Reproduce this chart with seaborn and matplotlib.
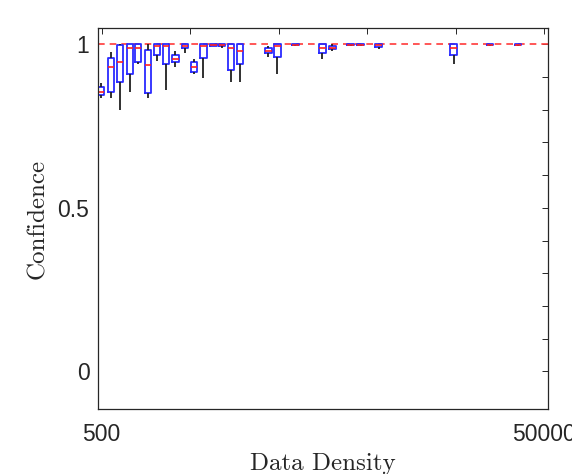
import numpy as np
import pandas as pd
import matplotlib
matplotlib.use("Agg")
import matplotlib.pyplot as plt
import seaborn as sns

# Data density positions (log axis) and box summaries
positions = [497, 552, 606, 673, 732, 812, 892, 978, 1077, 1190, 1307, 1441,
             1600, 1753, 1925, 2115, 2833, 3111, 3753, 4973, 5520, 6660,
             7390, 8915, 19460, 28350, 37950]
whisker_low = [0.835, 0.835, 0.800, 0.854, 0.940, 0.835, 0.950, 0.860, 0.930,
               0.972, 0.910, 0.896, 0.994, 0.990, 0.884, 0.884, 0.960, 0.910,
               0.995, 0.955, 0.980, 0.995, 0.995, 0.985, 0.940, 0.995, 0.995]
q1 = [0.845, 0.854, 0.884, 0.910, 0.945, 0.850, 0.966, 0.940, 0.945,
      0.990, 0.915, 0.957, 0.996, 0.994, 0.920, 0.940, 0.972, 0.960,
      0.997, 0.972, 0.985, 0.997, 0.997, 0.993, 0.966, 0.997, 0.997]
median = [0.855, 0.930, 0.945, 0.988, 0.988, 0.936, 0.994, 0.994, 0.955,
          0.996, 0.930, 0.995, 0.999, 0.998, 0.988, 0.980, 0.980, 0.995,
          0.999, 0.990, 0.990, 0.999, 0.999, 0.997, 0.990, 0.999, 0.999]
q3 = [0.869, 0.957, 0.997, 1.000, 1.000, 0.982, 1.000, 1.000, 0.966,
      1.000, 0.945, 1.000, 1.000, 1.000, 1.000, 1.000, 0.988, 1.000,
      1.000, 1.000, 0.995, 1.000, 1.000, 1.000, 1.000, 1.000, 1.000]
whisker_high = [0.881, 0.976, 1.000, 1.000, 1.000, 1.000, 1.000, 1.000, 0.980,
                1.000, 0.955, 1.000, 1.000, 1.000, 1.000, 1.000, 0.995, 1.000,
                1.000, 1.000, 1.000, 1.000, 1.000, 1.000, 1.000, 1.000, 1.000]
reference_level = 1.0

xtick_values = [500, 1256, 3155, 7925, 19905, 50000]
xtick_labels = ["500", "", "", "", "", "50000"]
ytick_values = [round(v, 1) for v in np.arange(0, 1.01, 0.1)]
ytick_labels = ["0", "", "", "", "", "0.5", "", "", "", "", "1"]

rows = []
for p, a, b, c, d, e in zip(positions, whisker_low, q1, median, q3, whisker_high):
    for v in (a, b, c, d, e):
        rows.append({"density": p, "confidence": v})
df = pd.DataFrame(rows)

sns.set_style("white")
plt.rcParams["font.family"] = ["Liberation Sans", "DejaVu Sans"]

fig = plt.figure(figsize=(5.72, 4.74), dpi=100)
ax = fig.add_axes([0.171, 0.137, 0.787, 0.804])
ax.set_xscale("log")

ax.axhline(reference_level, color="#ff3a3a", linestyle=(0, (4, 3)),
           linewidth=1.2, zorder=1)

sns.boxplot(data=df, x="density", y="confidence", native_scale=True,
            fill=False, width=0.8, whis=(0, 100), color="#2a2aff",
            linewidth=1.3, ax=ax,
            boxprops={"color": "#2a2aff"},
            medianprops={"color": "#ff2020", "linewidth": 1.2},
            whiskerprops={"color": "#202020", "linewidth": 1.3},
            capprops={"color": "#202020", "linewidth": 0.0})

ax.set_xlim(481, 51900)
ax.set_ylim(-0.115, 1.05)
ax.set_xticks(xtick_values)
ax.set_xticklabels(xtick_labels)
ax.xaxis.set_minor_locator(matplotlib.ticker.NullLocator())
ax.set_yticks(ytick_values)
ax.set_yticklabels(ytick_labels)
ax.tick_params(axis="both", direction="in", length=4, width=0.7,
               top=True, right=True, labelsize=16.5, colors="#262626")
ax.tick_params(axis="x", pad=10)
ax.tick_params(axis="y", pad=6)
for s in ax.spines.values():
    s.set_visible(True)
    s.set_color("#262626")
    s.set_linewidth(0.9)

ax.set_xlabel("Data Density", fontfamily="cmr10", fontsize=18, color="#262626",
              labelpad=5)
ax.set_ylabel("Confidence", fontfamily="cmr10", fontsize=18, color="#262626",
              labelpad=6)

fig.savefig("out.png", dpi=100)
